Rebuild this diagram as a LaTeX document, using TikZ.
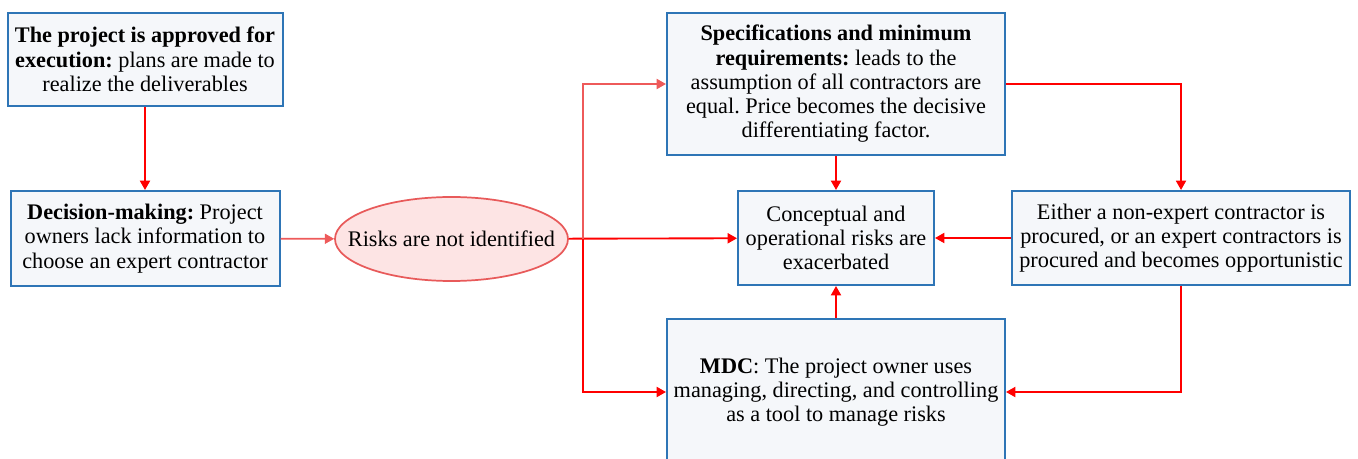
\documentclass[tikz,border=0pt]{standalone}
\usepackage{fontspec}
\setmainfont{Liberation Serif}
\usetikzlibrary{shapes.geometric,arrows.meta}
\frenchspacing
\definecolor{boxblue}{HTML}{2E75B6}
\definecolor{boxfill}{HTML}{F5F7FA}
\definecolor{linkred}{HTML}{FF0000}
\definecolor{softred}{HTML}{EE5A5A}
\definecolor{ovalfill}{HTML}{FDE4E4}
\definecolor{ovalline}{HTML}{E85A5A}

\begin{document}
\begin{tikzpicture}[x=0.75pt,y=-0.75pt,
  box/.style={draw=boxblue, line width=1.5pt, fill=boxfill, inner sep=0pt,
    align=center, font=\fontsize{16.7}{18.2}\selectfont},
  oval/.style={ellipse, draw=ovalline, line width=1.3pt, fill=ovalfill,
    inner xsep=-20pt, inner ysep=0pt,
    align=center, font=\fontsize{16.7}{18.2}\selectfont},
  link/.style={draw=linkred, line width=1.4pt, -{Triangle[length=7pt,width=7.5pt]}},
  softlink/.style={link, draw=softred}]
\useasboundingbox (0,0) rectangle (1358,459);

% boxes
\node[box, minimum width=206.25pt, minimum height=69.75pt] (approve) at (145,59.5)
  {\textbf{The project is approved for}\\\textbf{execution:} plans are made to\\realize the deliverables};
\node[box, minimum width=201.75pt, minimum height=71.25pt] (decide) at (145,238.5)
  {\textbf{Decision-making:} Project\\owners lack information to\\choose an expert contractor};
\node[oval, minimum width=174.75pt, minimum height=63pt] (risk) at (451.5,239)
  {Risks are not identified};
\node[box, minimum width=253.5pt, minimum height=106.5pt] (spec) at (836,84)
  {\textbf{Specifications and minimum}\\\textbf{requirements:} leads to the\\assumption of all contractors are\\equal. Price becomes the decisive\\differentiating factor.};
\node[box, minimum width=147pt, minimum height=70.5pt] (concept) at (836,238)
  {Conceptual and\\operational risks are\\exacerbated};
\node[box, minimum width=253.5pt, minimum height=70.5pt] (either) at (1181,238)
  {Either a non-expert contractor is\\procured, or an expert contractors is\\procured and becomes opportunistic};
\node[box, minimum width=253.5pt, minimum height=109.5pt] (mdc) at (836,392)
  {\textbf{MDC}: The project owner uses\\managing, directing, and controlling\\as a tool to manage risks};

% connectors
\coordinate (split) at (583,239);
\draw[link] (approve) -- (decide);
\draw[softlink] (decide) -- (risk);
\draw[link] (risk) -- (concept);
\draw[softlink] (split) |- (spec.west);
\draw[link] (split) |- (mdc.west);
\draw[link] (spec) -- (concept);
\draw[link] (mdc) -- (concept);
\draw[link] (spec.east) -| (either.north);
\draw[link] (either) -- (concept);
\draw[link] (either.south) |- (mdc.east);
\end{tikzpicture}
\end{document}
